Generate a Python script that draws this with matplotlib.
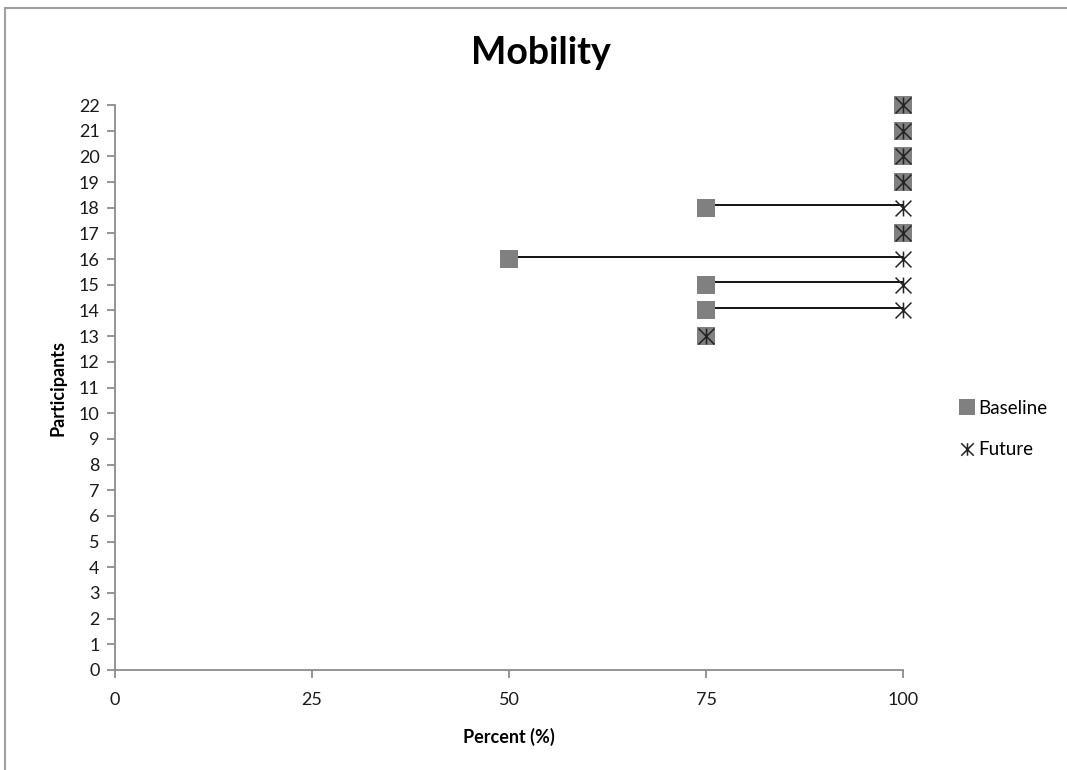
import matplotlib.pyplot as plt
import numpy as np
from matplotlib.path import Path
from matplotlib.lines import Line2D

plt.rcParams['font.family'] = ['Lato', 'DejaVu Sans']

participants = [13, 14, 15, 16, 17, 18, 19, 20, 21, 22]
baseline = [75, 75, 75, 50, 100, 75, 100, 100, 100, 100]
future = [75, 100, 100, 100, 100, 100, 100, 100, 100, 100]

# Excel-style star: vertical bar plus an X
star = Path([(0, -1), (0, 1), (-1, -1), (1, 1), (-1, 1), (1, -1)],
            [Path.MOVETO, Path.LINETO, Path.MOVETO, Path.LINETO,
             Path.MOVETO, Path.LINETO])

fig = plt.figure(figsize=(10.67, 7.7), dpi=100)
ax = fig.add_axes([0.1078, 0.1299, 0.7385, 0.7337])

# connectors from baseline to future where they differ
for p, b, f in zip(participants, baseline, future):
    if b != f:
        ax.plot([b, f], [p + 0.1, p + 0.1], color='black', lw=1.3,
                zorder=2, clip_on=False)

ax.scatter(baseline, participants, marker='s', s=160, color='#808080',
           zorder=3, clip_on=False, linewidths=0)
ax.scatter(future, participants, marker=star, s=130, color='#222222',
           linewidths=1.1, zorder=4, clip_on=False)

ax.set_xlim(0, 100)
ax.set_ylim(0, 22)
ax.set_xticks([0, 25, 50, 75, 100])
ax.set_yticks(np.arange(0, 23))

for side in ['top', 'right']:
    ax.spines[side].set_visible(False)
for side in ['left', 'bottom']:
    ax.spines[side].set_color('#8c8c8c')
    ax.spines[side].set_linewidth(1.3)
ax.tick_params(axis='both', colors='#8c8c8c', length=6, width=1.3,
               labelcolor='#1a1a1a', labelsize=13)
ax.tick_params(axis='x', pad=10)
ax.tick_params(axis='y', pad=5)

ax.set_xlabel('Percent (%)', fontsize=13, fontweight='bold', labelpad=14)
ax.set_ylabel('Participants', fontsize=13, fontweight='bold', labelpad=9)
fig.text(0.507, 0.931, 'Mobility', ha='center', va='center',
         fontsize=27, fontweight='bold')

handles = [
    Line2D([], [], marker='s', ls='none', color='#808080', markersize=11,
           markeredgewidth=0, label='Baseline'),
    Line2D([], [], marker=star, ls='none', color='#222222', markersize=9,
           markeredgewidth=1.1, label='Future'),
]
fig.legend(handles=handles, loc='center left', bbox_to_anchor=(0.882, 0.443),
           frameon=False, fontsize=13.5, handletextpad=0.1, labelspacing=1.3,
           handlelength=1.0)

# chart area border
fig.add_artist(Line2D([5 / 1067, 1], [1 - 8 / 770, 1 - 8 / 770],
                      color='#a0a0a0', lw=1.5, transform=fig.transFigure))
fig.add_artist(Line2D([5 / 1067, 5 / 1067], [0, 1 - 8 / 770],
                      color='#a0a0a0', lw=1.5, transform=fig.transFigure))

fig.savefig('out.png', dpi=100)
